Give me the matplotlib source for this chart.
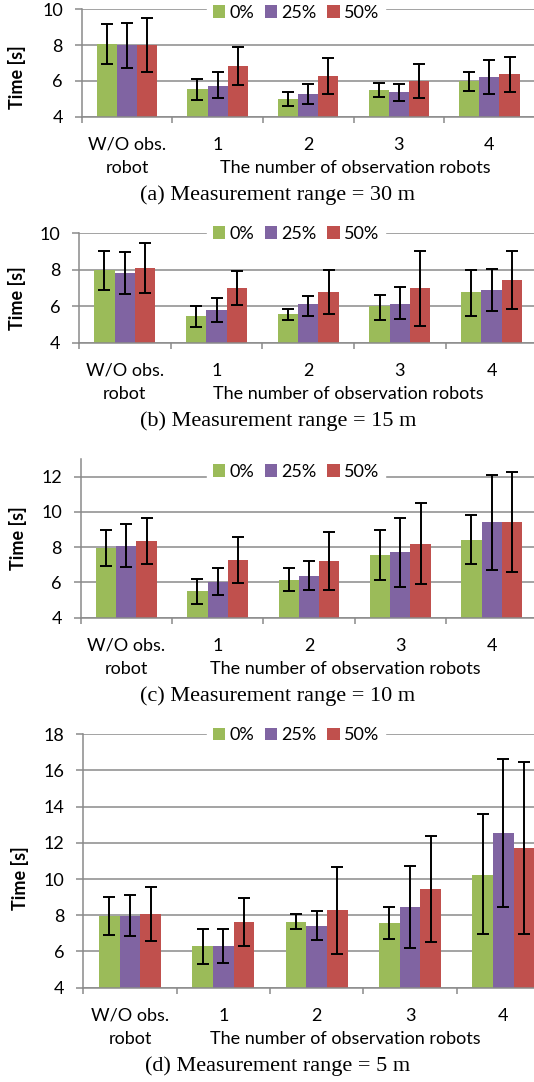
import matplotlib
matplotlib.use("Agg")
import matplotlib.pyplot as plt
import numpy as np
from matplotlib.patches import Patch

# ---------------- data ----------------
categories = ["W/O obs.\nrobot", "1", "2", "3", "4"]
series_names = ["0%", "25%", "50%"]
colors = ["#9BBB59", "#8064A2", "#C0504D"]

# (a) Measurement range = 30 m   rows: 0%, 25%, 50%
a_mean = [[8.06, 5.53, 4.99, 5.49, 5.97],
          [7.99, 5.71, 5.25, 5.36, 6.20],
          [7.99, 6.81, 6.25, 5.99, 6.38]]
a_hi = [[9.16, 6.10, 5.40, 5.90, 6.48],
        [9.21, 6.48, 5.84, 5.84, 7.17],
        [9.49, 7.87, 7.28, 6.96, 7.35]]
a_lo = [[6.92, 4.93, 4.61, 5.08, 5.45],
        [6.70, 5.02, 4.73, 4.88, 5.27],
        [6.48, 5.77, 5.25, 5.02, 5.40]]

# (b) Measurement range = 15 m
b_mean = [[7.97, 5.44, 5.55, 6.02, 6.76],
          [7.84, 5.77, 6.14, 6.14, 6.87],
          [8.08, 6.98, 6.78, 6.98, 7.42]]
b_hi = [[9.03, 6.03, 5.86, 6.60, 7.97],
        [8.99, 6.47, 6.58, 7.03, 8.06],
        [9.45, 7.93, 8.00, 9.01, 9.05]]
b_lo = [[6.91, 4.86, 5.24, 5.26, 5.46],
        [6.67, 5.12, 5.44, 5.32, 5.72],
        [6.71, 6.05, 5.57, 4.93, 5.86]]

# (c) Measurement range = 10 m
c_mean = [[7.97, 5.49, 6.14, 7.55, 8.42],
          [8.06, 6.04, 6.38, 7.71, 9.41],
          [8.37, 7.25, 7.21, 8.20, 9.44]]
c_hi = [[8.97, 6.19, 6.80, 8.99, 9.84],
        [9.29, 6.84, 7.23, 9.67, 12.11],
        [9.67, 8.56, 8.86, 10.50, 12.24]]
c_lo = [[6.95, 4.78, 5.49, 6.12, 7.02],
        [6.87, 5.29, 5.57, 5.76, 6.72],
        [7.02, 5.95, 5.57, 5.91, 6.61]]

# (d) Measurement range = 5 m
d_mean = [[7.98, 6.28, 7.63, 7.55, 10.24],
          [7.98, 6.30, 7.43, 8.48, 12.53],
          [8.09, 7.63, 8.27, 9.45, 11.72]]
d_hi = [[9.03, 7.24, 8.07, 8.48, 13.58],
        [9.14, 7.26, 8.24, 10.74, 16.65],
        [9.58, 8.94, 10.69, 12.36, 16.47]]
d_lo = [[6.93, 5.29, 7.22, 6.69, 6.95],
        [6.84, 5.38, 6.63, 6.21, 8.44],
        [6.60, 6.28, 5.86, 6.54, 6.98]]

captions = ["(a) Measurement range = 30 m",
            "(b) Measurement range = 15 m",
            "(c) Measurement range = 10 m",
            "(d) Measurement range = 5 m"]
y_label = "Time [s]"
x_title = "The number of observation robots"

# ---------------- layout (pixel based) ----------------
W, H = 534, 1082
fig = plt.figure(figsize=(W / 100, H / 100), dpi=100)
fig.patch.set_facecolor("white")

SANS = ["Lato", "DejaVu Sans"]
SERIF = ["Liberation Serif", "DejaVu Serif"]
FS = 13
GRID = "#8a8a8a"

def fx(x):
    return x / W

def fy(y):
    return 1 - y / H

panels = [
    dict(mean=a_mean, hi=a_hi, lo=a_lo, left=81.7, right=534.7, top=9.3, bottom=116.7,
         ylim=(4, 10), yticks=[4, 6, 8, 10], leg_y=13, ylab=(17, 77), xt_x=355),
    dict(mean=b_mean, hi=b_hi, lo=b_lo, left=79.0, right=537.4, top=233.3, bottom=342.7,
         ylim=(4, 10), yticks=[4, 6, 8, 10], leg_y=234, ylab=(17, 298), xt_x=348),
    dict(mean=c_mean, hi=c_hi, lo=c_lo, left=80.7, right=537.3, top=459.1, bottom=617.7,
         ylim=(4, 13), yticks=[4, 6, 8, 10, 12], leg_y=472, ylab=(18, 538), xt_x=345),
    dict(mean=d_mean, hi=d_hi, lo=d_lo, left=83.3, right=550.0, top=734.3, bottom=987.7,
         ylim=(4, 18), yticks=[4, 6, 8, 10, 12, 14, 16, 18], leg_y=735.5, ylab=(20, 878), xt_x=345),
]

bw = 0.222
x = np.arange(len(categories))

for p, cap in zip(panels, captions):
    ax = fig.add_axes([fx(p["left"]), fy(p["bottom"]),
                       (p["right"] - p["left"]) / W, (p["bottom"] - p["top"]) / H])
    ax.set_axisbelow(True)
    for j in range(3):
        m = np.array(p["mean"][j])
        hi = np.array(p["hi"][j])
        lo = np.array(p["lo"][j])
        xs = x + (j - 1) * bw
        ax.bar(xs, m - p["ylim"][0], bw, bottom=p["ylim"][0], color=colors[j],
               edgecolor="none", zorder=2)
        ax.errorbar(xs, m, yerr=[m - lo, hi - m], fmt="none", ecolor="black",
                    elinewidth=1.4, capsize=4, capthick=1.4, zorder=3)
    ax.set_xlim(-0.5, len(categories) - 0.5)
    ax.set_ylim(*p["ylim"])
    ax.set_yticks(p["yticks"])
    ax.set_yticklabels([str(t) for t in p["yticks"]], fontfamily=SANS, fontsize=FS)
    ax.yaxis.grid(True, color=GRID, linewidth=1.1)
    ax.tick_params(axis="y", direction="out", length=4.8, width=1.1, color=GRID, pad=8.8)
    # category boundaries as major ticks, labels as minor ticks
    ax.set_xticks(np.arange(len(categories) + 1) - 0.5)
    ax.set_xticklabels([])
    ax.tick_params(axis="x", which="major", direction="out", length=4.5, width=1.1, color=GRID)
    ax.set_xticks(x, minor=True)
    ax.set_xticklabels(categories, minor=True, fontfamily=SANS, fontsize=FS, linespacing=1.55)
    ax.tick_params(axis="x", which="minor", length=0, pad=14.5)
    for s in ["top", "right"]:
        ax.spines[s].set_visible(False)
    for s in ["left", "bottom"]:
        ax.spines[s].set_color(GRID)
        ax.spines[s].set_linewidth(1.1)
    ax.set_facecolor("none")

    handles = [Patch(facecolor=c, edgecolor="none") for c in colors]
    ax.legend(handles, series_names, loc="center", ncol=3,
              bbox_to_anchor=(fx(296), fy(p["leg_y"])), bbox_transform=fig.transFigure,
              prop={"family": SANS, "size": FS}, frameon=True, facecolor="white",
              edgecolor="white", framealpha=1, fancybox=False,
              handlelength=0.68, handleheight=0.68, handletextpad=0.22,
              columnspacing=0.6, borderpad=0.35, borderaxespad=0)

    fig.text(fx(p["ylab"][0]), fy(p["ylab"][1]), y_label, rotation=90, ha="center",
             va="center", fontfamily=SANS, fontsize=FS, fontweight="bold")
    fig.text(fx(p["xt_x"]), fy(p["bottom"] + 51), x_title, ha="center", va="center",
             fontfamily=SANS, fontsize=FS)
    fig.text(fx(278), fy(p["bottom"] + 78), cap, ha="center", va="center",
             fontfamily=SERIF, fontsize=16)

fig.savefig("out.png", dpi=100)
